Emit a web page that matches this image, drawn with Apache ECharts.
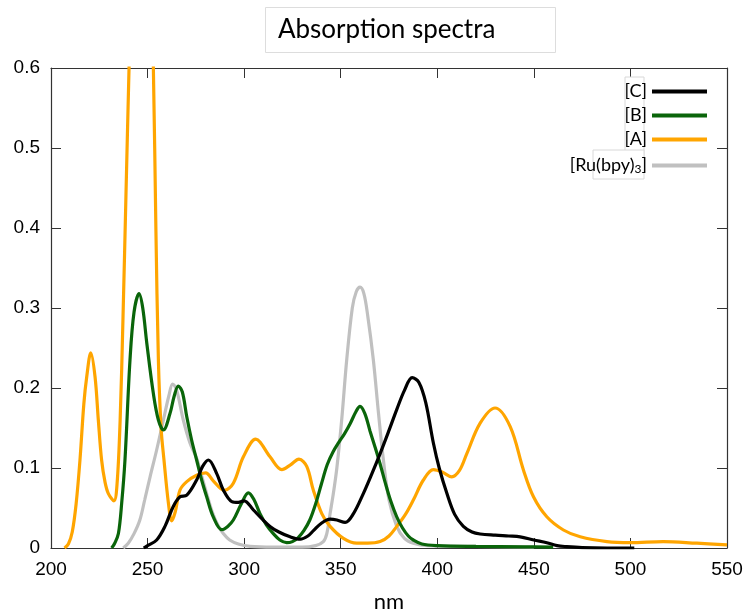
<!DOCTYPE html>
<html>
<head>
<meta charset="utf-8">
<script src="https://cdn.jsdelivr.net/npm/echarts@6/dist/echarts.min.js"></script>
<style>
  html, body { margin: 0; padding: 0; background: #fff; }
  #chart { width: 747px; height: 613px; }
</style>
</head>
<body>
<div id="chart"></div>
<script>
// Wavelengths (nm) and absorbance for each compound
const cNm = [248, 250, 254.7, 259, 263.3, 266.8, 270.3, 275.4, 278.5, 281.5, 285.8, 289.2, 293.6, 297, 300, 304.8, 309, 313.4, 318, 323.8, 329, 333, 336, 340, 344.5, 348, 352.3, 356.6, 361.7, 366, 370.4, 375, 379, 383, 387, 390.5, 394, 398, 401, 405, 409, 413.5, 418, 422.2, 430, 437, 442.9, 450, 456.7, 462, 467, 475, 488, 502];
const cVal = [0, 0.003, 0.01, 0.027, 0.052, 0.064, 0.066, 0.085, 0.102, 0.11, 0.093, 0.0725, 0.058, 0.057, 0.059, 0.0475, 0.037, 0.027, 0.02, 0.014, 0.011, 0.015, 0.022, 0.031, 0.036, 0.035, 0.032, 0.043, 0.068, 0.092, 0.118, 0.147, 0.173, 0.197, 0.213, 0.207, 0.182, 0.131, 0.1, 0.068, 0.042, 0.027, 0.02, 0.0175, 0.016, 0.015, 0.014, 0.01, 0.0066, 0.003, 0.0017, 0.0005, 0, 0];

const bNm = [231.4, 233, 234.9, 236.6, 238.3, 240.9, 243, 245.6, 247.5, 249.6, 253, 255.6, 258.2, 261.6, 263.8, 265.9, 268, 270.3, 272.8, 275.4, 278, 280.6, 284, 288.4, 291.5, 294.4, 298.5, 302.2, 305, 308.2, 311.5, 315.1, 318.5, 322, 325, 328, 331, 334, 337, 340, 343, 346, 349, 352, 355, 358, 360, 362.5, 365.2, 367.8, 370.4, 373, 376, 379, 382, 385, 387.6, 392, 400, 420, 445, 460];
const bVal = [0, 0.006, 0.018, 0.056, 0.11, 0.235, 0.295, 0.318, 0.3, 0.256, 0.193, 0.16, 0.1475, 0.168, 0.19, 0.2025, 0.195, 0.164, 0.135, 0.11, 0.085, 0.064, 0.039, 0.023, 0.027, 0.035, 0.055, 0.069, 0.061, 0.043, 0.029, 0.018, 0.01, 0.0066, 0.008, 0.013, 0.022, 0.035, 0.055, 0.08, 0.104, 0.12, 0.132, 0.143, 0.156, 0.171, 0.177, 0.168, 0.146, 0.126, 0.105, 0.082, 0.058, 0.039, 0.025, 0.015, 0.01, 0.005, 0.003, 0.002, 0.0015, 0.001];

const aNm = [207, 209, 211, 213, 215, 217, 218.5, 220.6, 222.8, 224.5, 226.2, 228, 229.7, 232.6, 234.2, 235.8, 237.3, 238.8, 240.2, 241.7, 243.5, 246.5, 249.5, 251.5, 253, 254.3, 255.6, 257, 258.5, 260.8, 262.5, 264.3, 266.8, 270.3, 275.4, 280.1, 284, 289.8, 294.4, 299.6, 306, 313.4, 319.5, 324, 328.4, 332.4, 335.8, 340.2, 344.5, 351.4, 358.3, 364, 370.4, 375, 379, 383.5, 387.6, 392.8, 398, 402.5, 407.5, 411.5, 415.3, 422.2, 429.9, 437.7, 444.6, 449.8, 456.7, 465.3, 474, 487.8, 499.8, 517, 534.4, 550];
const aVal = [0, 0.005, 0.02, 0.055, 0.11, 0.18, 0.214, 0.244, 0.214, 0.16, 0.11, 0.082, 0.068, 0.059, 0.08, 0.16, 0.29, 0.44, 0.58, 0.72, 0.86, 0.96, 0.88, 0.72, 0.6, 0.4, 0.235, 0.15, 0.11, 0.056, 0.034, 0.045, 0.0725, 0.083, 0.091, 0.094, 0.084, 0.072, 0.081, 0.114, 0.136, 0.114, 0.098, 0.104, 0.111, 0.102, 0.0725, 0.043, 0.027, 0.012, 0.006, 0.006, 0.008, 0.015, 0.027, 0.042, 0.06, 0.085, 0.098, 0.095, 0.089, 0.097, 0.118, 0.156, 0.175, 0.152, 0.0975, 0.064, 0.039, 0.0225, 0.014, 0.008, 0.0067, 0.008, 0.006, 0.004];

const ruNm = [237.4, 240, 243, 246, 248.5, 251.3, 254.7, 258.2, 261, 263, 265, 268.5, 272, 275.4, 278, 280.6, 283.5, 286.5, 289.2, 292.5, 297, 303, 315, 330, 337, 341, 342.8, 344.5, 346.3, 348, 350.5, 353.1, 356, 358, 360, 362, 364, 366.9, 369.5, 372.1, 375, 379, 383, 387.6, 395, 420, 450];
const ruVal = [0, 0.006, 0.018, 0.035, 0.06, 0.089, 0.1225, 0.16, 0.19, 0.205, 0.198, 0.16, 0.131, 0.112, 0.09, 0.068, 0.045, 0.028, 0.018, 0.01, 0.005, 0.002, 0.001, 0.001, 0.003, 0.008, 0.018, 0.043, 0.07, 0.1, 0.16, 0.235, 0.3, 0.32, 0.326, 0.318, 0.29, 0.235, 0.17, 0.11, 0.06, 0.027, 0.012, 0.006, 0.003, 0.002, 0.001];

const seriesNames = ['[C]', '[B]', '[A]', '[Ru(bpy)3]'];
const seriesColors = ['#000000', '#0a650a', '#ffa500', '#c0c0c0'];
const xTicks = [200, 250, 300, 350, 400, 450, 500, 550];
const yTicks = [0, 0.1, 0.2, 0.3, 0.4, 0.5, 0.6];

const pairs = (xs, ys) => xs.map((x, i) => [x, ys[i]]);
const seriesData = [pairs(cNm, cVal), pairs(bNm, bVal), pairs(aNm, aVal), pairs(ruNm, ruVal)];

const chart = echarts.init(document.getElementById('chart'), null, { renderer: 'canvas' });

const labelFont = '"Liberation Sans", Arial, sans-serif';
const frameColor = '#333333';
const xMin = xTicks[0], xMax = xTicks[xTicks.length - 1];
const yMin = yTicks[0], yMax = yTicks[yTicks.length - 1];

// Ticks point into the plot box (negative length flips them inward)
const tickCfg = { show: true, inside: false, length: -10, lineStyle: { color: frameColor, width: 1 } };

function xAxisCfg(pos, showLabel) {
  return {
    type: 'value', position: pos, min: xMin, max: xMax, interval: 50,
    axisLine: { show: true, onZero: false, lineStyle: { color: frameColor, width: 1.2 } },
    axisTick: tickCfg,
    axisLabel: { show: showLabel, margin: 12, color: '#000', fontSize: 19, fontFamily: labelFont },
    splitLine: { show: false }
  };
}
function yAxisCfg(pos, showLabel) {
  return {
    type: 'value', position: pos, min: yMin, max: yMax, interval: 0.1,
    axisLine: { show: true, onZero: false, lineStyle: { color: frameColor, width: 1.2 } },
    axisTick: tickCfg,
    axisLabel: { show: showLabel, margin: 11, color: '#000', fontSize: 19, fontFamily: labelFont,
      formatter: v => String(Math.round(v * 10) / 10) },
    splitLine: { show: false }
  };
}

const xBottom = xAxisCfg('bottom', true);
xBottom.name = 'nm';
xBottom.nameLocation = 'middle';
xBottom.nameGap = 43;
xBottom.nameTextStyle = { color: '#000', fontSize: 22, fontFamily: 'Lato, sans-serif' };

chart.setOption({
  animation: false,
  backgroundColor: '#ffffff',
  title: {
    text: 'Absorption spectra',
    left: 265, top: 7,
    padding: [9, 60, 9, 13],
    backgroundColor: '#ffffff',
    borderColor: '#dddddd',
    borderWidth: 1,
    textStyle: { color: '#000', fontSize: 26, fontWeight: 'normal', fontFamily: 'Lato, sans-serif', lineHeight: 28 }
  },
  grid: { left: 51, right: 20, top: 68, bottom: 65, containLabel: false, outerBoundsMode: 'none' },
  xAxis: [xBottom, xAxisCfg('top', false)],
  yAxis: [yAxisCfg('left', true), yAxisCfg('right', false)],
  legend: {
    orient: 'vertical',
    right: 40, top: 82,
    padding: 0,
    align: 'right',
    icon: 'rect',
    itemWidth: 55,
    itemHeight: 4,
    itemGap: 5,
    data: seriesNames,
    formatter: n => n === '[Ru(bpy)3]' ? '[Ru(bpy){s|3}]' : n,
    textStyle: {
      color: '#000', fontSize: 18, fontFamily: 'Lato, sans-serif', lineHeight: 19,
      rich: { s: { fontSize: 12, fontFamily: 'Lato, sans-serif', lineHeight: 19, verticalAlign: 'bottom', padding: [9, 0, 0, 0] } }
    }
  },
  graphic: [
    { type: 'rect', shape: { x: 625, y: 77, width: 19, height: 80 }, style: { fill: '#fff', stroke: '#d8d8d8', lineWidth: 1 }, z: 1 },
    { type: 'rect', shape: { x: 593, y: 150, width: 51, height: 29 }, style: { fill: '#fff', stroke: '#d8d8d8', lineWidth: 1 }, z: 1 }
  ],
  series: seriesNames.map((name, i) => ({
    name,
    type: 'line',
    xAxisIndex: 0, yAxisIndex: 0,
    data: seriesData[i],
    smooth: 0.35,
    showSymbol: false,
    symbol: 'none',
    clip: true,
    z: 3 + (3 - i),
    lineStyle: { color: seriesColors[i], width: 3.2 },
    itemStyle: { color: seriesColors[i] }
  }))
});
</script>
</body>
</html>
